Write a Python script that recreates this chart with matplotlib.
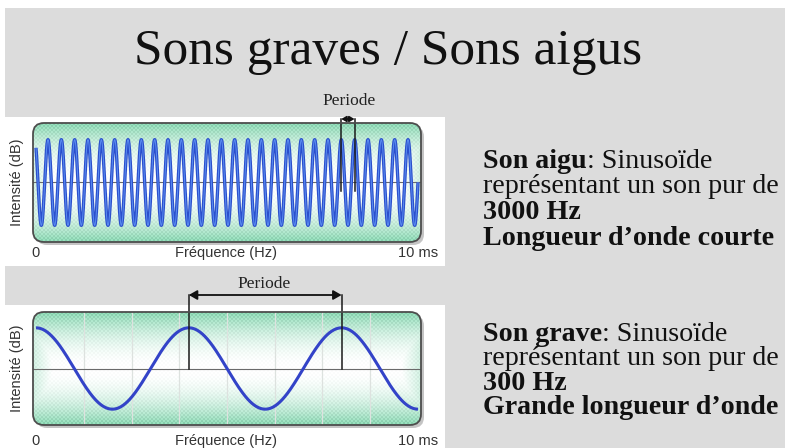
import numpy as np
import matplotlib
matplotlib.use("Agg")
import matplotlib.pyplot as plt
from matplotlib.patches import FancyBboxPatch, Rectangle
from matplotlib.transforms import IdentityTransform

W, H = 785, 448
DPI = 100

# ---------------- data ----------------
title = "Sons graves / Sons aigus"
x_label = "Fréquence (Hz)"
y_label = "Intensité (dB)"
x_tick_labels = ["0", "10 ms"]
duree_ms = 10.0

# son aigu (~3000 Hz)
aigu_cycles_par_ms = 2.865
aigu_premier_pic_ms = 0.314
aigu_periode_ms = [7.99, 8.34]

# son grave (~300 Hz)
grave_cycles_par_ms = 0.25
grave_premier_pic_ms = 0.0
grave_periode_ms = [4.0, 8.0]
grave_grille_ms = [1.25, 2.5, 3.75, 5.0, 6.25, 7.5, 8.75]

texte_aigu = [("Son aigu", ": Sinusoïde"), ("", "représentant un son pur de"),
              ("3000 Hz", ""), ("Longueur d’onde courte", "")]
texte_grave = [("Son grave", ": Sinusoïde"), ("", "représentant un son pur de"),
               ("300 Hz", ""), ("Grande longueur d’onde", "")]

# ---------------- figure ----------------
fig = plt.figure(figsize=(W / DPI, H / DPI), dpi=DPI)
fig.patch.set_facecolor("white")
ident = IdentityTransform()


def rect_px(x0, y0, x1, y1, **kw):
    r = Rectangle((x0, H - y1), x1 - x0, y1 - y0, transform=ident, **kw)
    fig.add_artist(r)
    return r


def fx(x):
    return x / W


def fy(y):
    return 1 - y / H


SERIF = "Liberation Serif"
SANS = "Liberation Sans"

# background
rect_px(5, 8, W, H, facecolor="#dcdcdc", edgecolor="none", zorder=0)
rect_px(3, 117, 445, 266, facecolor="white", edgecolor="none", zorder=0)
rect_px(3, 305, 445, H, facecolor="white", edgecolor="none", zorder=0)

fig.text(fx(388), fy(52), title, ha="center", va="center", fontsize=37,
         family=SERIF, color="#111111")

GREEN = np.array([138, 214, 178]) / 255.0


def make_panel(box, cycles, first_peak, periode, grid=None, lw=2.2,
               wave_color="#2f4fd0", highlight=None, label_y=0, per_y=0,
               per_text_y=0, per_text_x=0, head=6):
    x0, y0, x1, y1 = box  # pixel coords, y from top
    bw, bh = x1 - x0, y1 - y0
    amp_px = 0.72 * bh / 2
    px_per_ms = (bw - 6) / duree_ms
    xl = (-3 / px_per_ms, duree_ms + 3 / px_per_ms)
    yl = (-(bh / 2) / amp_px, (bh / 2) / amp_px)

    # shadow
    sh = FancyBboxPatch((x0 + 3, H - y1 - 3), bw, bh,
                        boxstyle="round,pad=0,rounding_size=11",
                        transform=ident, facecolor="#8a8a8a", edgecolor="none",
                        alpha=0.5, zorder=1)
    fig.add_artist(sh)

    ax = fig.add_axes([fx(x0), fy(y1), bw / W, bh / H], zorder=2)
    ax.set_xlim(*xl)
    ax.set_ylim(*yl)
    ax.axis("off")
    ax.patch.set_alpha(0)

    clip = FancyBboxPatch((x0, H - y1), bw, bh,
                          boxstyle="round,pad=0,rounding_size=11",
                          transform=ident, facecolor="none", edgecolor="none")

    # gradient fill
    ih, iw = int(bh), int(bw)
    v = np.linspace(0, 1, ih)[:, None]
    u = np.linspace(0, 1, iw)[None, :]
    g = np.clip(np.abs(2 * v - 1), 0, 1) ** 1.9
    gh = np.clip(np.abs(2 * u - 1) - 0.9, 0, 1) / 0.1 * 0.5
    g = np.clip(np.maximum(g, gh * 0.8) * np.ones_like(u), 0, 1)
    jj, ii = np.meshgrid(np.arange(iw), np.arange(ih))
    checker = (((ii // 2) + (jj // 2)) % 2) * 2 - 1
    img = (1 - g[..., None]) * 1.0 + g[..., None] * GREEN
    img = img + (checker * 0.03 * (0.3 + g))[..., None]
    img = np.clip(img, 0, 1)
    im = ax.imshow(img, extent=(xl[0], xl[1], yl[0], yl[1]), aspect="auto",
                   interpolation="nearest", zorder=0)
    im.set_clip_path(clip)

    if grid is not None:
        for gx in grid:
            ln, = ax.plot([gx, gx], [yl[0], yl[1]], color="#dde2df", lw=0.9,
                          zorder=1)
            ln.set_clip_path(clip)

    ax.plot(xl, [0, 0], color="#6a6a6a", lw=0.8, zorder=2)

    t = np.linspace(0, duree_ms, 6000)
    y = np.cos(2 * np.pi * cycles * (t - first_peak))
    ax.plot(t, y, color=wave_color, lw=lw, zorder=3, solid_capstyle="butt")
    if highlight is not None:
        ax.plot(t, y, color=highlight, lw=lw * 0.3, zorder=4)

    border = FancyBboxPatch((x0, H - y1), bw, bh,
                            boxstyle="round,pad=0,rounding_size=11",
                            transform=ident, facecolor="none",
                            edgecolor="#4d4d4d", lw=1.3, zorder=5)
    fig.add_artist(border)

    # période
    ytop = yl[1] + (y0 - per_y) / amp_px
    ybot = -9 / amp_px if head < 6 else 0
    for p in periode:
        ax.plot([p, p], [ybot, ytop], color="#1a1a1a", lw=1.1, zorder=6,
                clip_on=False)
    ax.annotate("", xy=(periode[0], ytop), xytext=(periode[1], ytop),
                arrowprops=dict(arrowstyle="<|-|>,head_length=%g,head_width=%g"
                                % (head * 0.07, head * 0.04),
                                color="#111111", lw=1.3, shrinkA=0, shrinkB=0),
                annotation_clip=False, zorder=6)
    fig.text(fx(per_text_x), fy(per_text_y), "Periode", ha="center",
             va="center", fontsize=12.5, family=SERIF, color="#222222")

    # étiquettes
    fig.text(fx(17), fy((y0 + y1) / 2), y_label, rotation=90, ha="center",
             va="center", fontsize=10.5, family=SANS, color="#333333")
    fig.text(fx(36), fy(label_y), x_tick_labels[0], ha="center", va="center",
             fontsize=10.5, family=SANS, color="#333333")
    fig.text(fx(226), fy(label_y), x_label, ha="center", va="center",
             fontsize=10.5, family=SANS, color="#333333")
    fig.text(fx(438), fy(label_y), x_tick_labels[1], ha="right", va="center",
             fontsize=10.5, family=SANS, color="#333333")
    return ax


make_panel((33, 123, 421, 242), aigu_cycles_par_ms, aigu_premier_pic_ms,
           aigu_periode_ms, lw=2.4, wave_color="#2b4fcc", highlight="#5a8cf0",
           label_y=253, per_y=119, per_text_y=101, per_text_x=349, head=4)
make_panel((33, 312, 421, 425), grave_cycles_par_ms, grave_premier_pic_ms,
           grave_periode_ms, grid=grave_grille_ms, lw=2.2,
           wave_color="#3343c8", label_y=441, per_y=295, per_text_y=284,
           per_text_x=264, head=7)

# ---------------- textes à droite ----------------
renderer = fig.canvas.get_renderer()


def write_block(lines, ys, x=483, size=20.2):
    for (bold, reg), yy in zip(lines, ys):
        xx = x
        if bold:
            tb = fig.text(fx(xx), fy(yy), bold, ha="left", va="baseline",
                          fontsize=size, family=SERIF, weight="bold",
                          color="#111111")
            xx += tb.get_window_extent(renderer).width
        if reg:
            fig.text(fx(xx), fy(yy), reg, ha="left", va="baseline",
                     fontsize=size, family=SERIF, color="#111111")


write_block(texte_aigu, [168, 193, 219, 245])
write_block(texte_grave, [341, 365, 390, 414])

fig.savefig("out.png", dpi=DPI)
